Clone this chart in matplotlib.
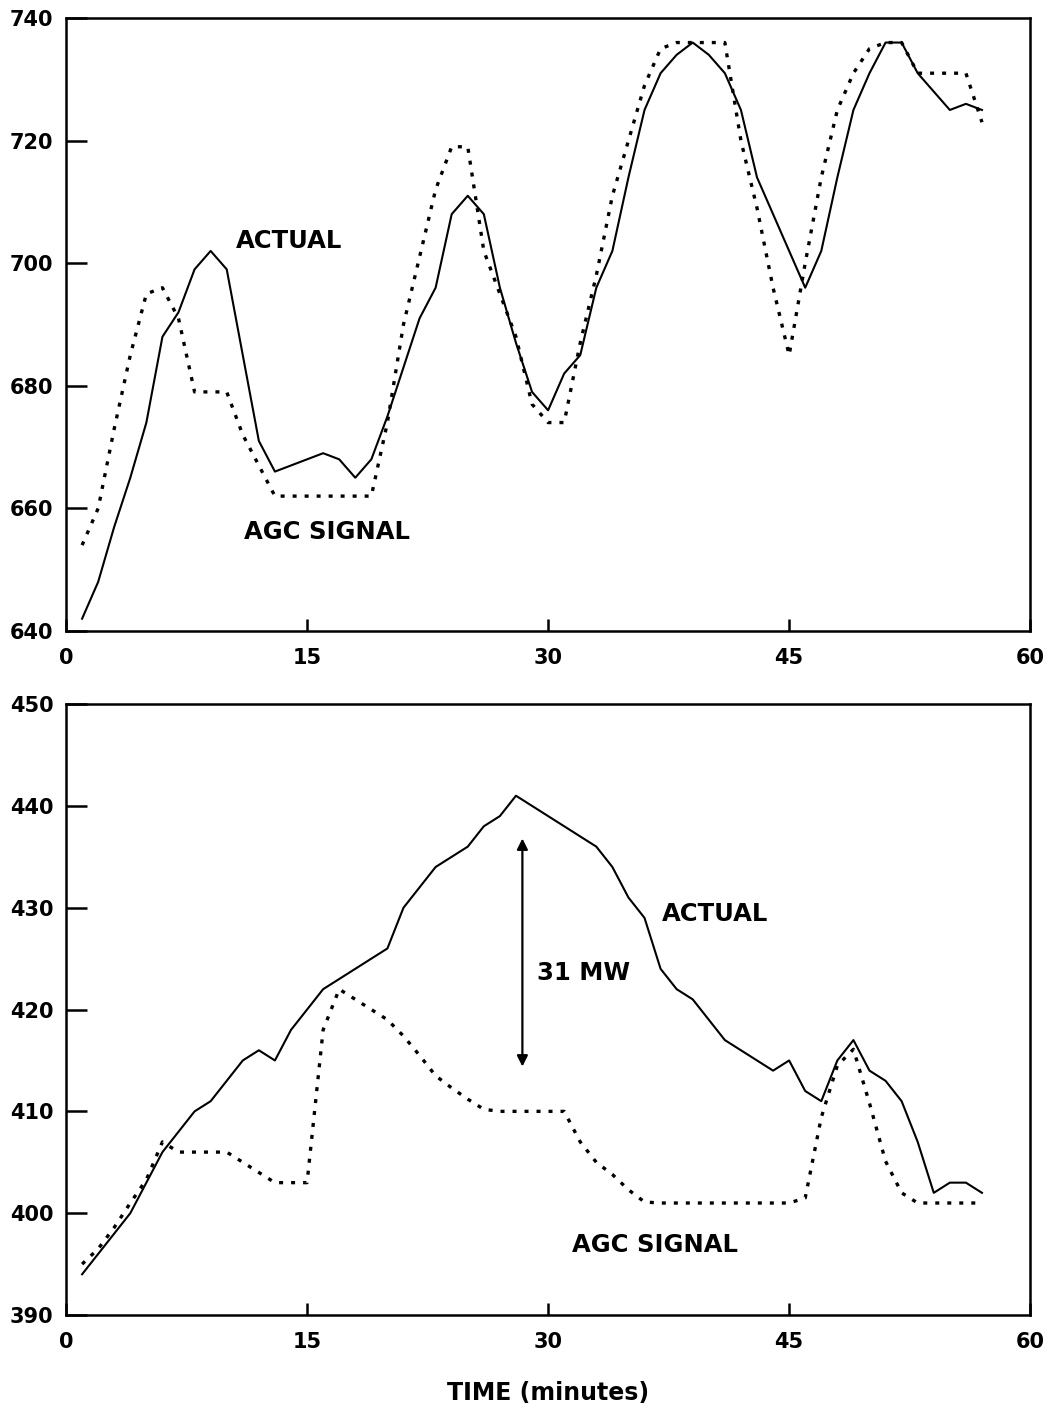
import numpy as np
import matplotlib
matplotlib.use("Agg")
import matplotlib.pyplot as plt

# minutter 1..57
minutter = np.arange(1, 58)

# øvre panel
faktisk_1 = [642, 648, 657, 665, 674, 688, 692, 699, 702, 699,
             685, 671, 666, 667, 668, 669, 668, 665, 668, 675,
             683, 691, 696, 708, 711, 708, 696, 687, 679, 676,
             682, 685, 696, 702, 714, 725, 731, 734, 736, 734,
             731, 725, 714, 708, 702, 696, 702, 714, 725, 731,
             736, 736, 731, 728, 725, 726, 725]
agc_1 = [654, 660, 673, 685, 695, 696, 691, 679, 679, 679,
         672, 667, 662, 662, 662, 662, 662, 662, 662, 674,
         690, 701, 712, 719, 719, 702, 695, 688, 677, 674,
         674, 687, 698, 711, 720, 729, 735, 736, 736, 736,
         736, 720, 709, 696, 685, 700, 714, 725, 731, 735,
         736, 736, 731, 731, 731, 731, 723]

# nedre panel
faktisk_2 = [394, 396, 398, 400, 403, 406, 408, 410, 411, 413,
             415, 416, 415, 418, 420, 422, 423, 424, 425, 426,
             430, 432, 434, 435, 436, 438, 439, 441, 440, 439,
             438, 437, 436, 434, 431, 429, 424, 422, 421, 419,
             417, 416, 415, 414, 415, 412, 411, 415, 417, 414,
             413, 411, 407, 402, 403, 403, 402]
agc_2 = [395, 396.5, 398.6, 401, 403.3, 407, 406, 406, 406, 406,
         405, 404, 403, 403, 403, 418, 422, 421, 420, 419,
         417.4, 415.5, 413.5, 412.3, 411.2, 410.2, 410, 410, 410, 410,
         410, 407, 405, 403.8, 402.3, 401.1, 401, 401, 401, 401,
         401, 401, 401, 401, 401, 401.5, 409.4, 414.5, 416.1, 410.8,
         405.1, 402, 401, 401, 401, 401, 401]

x_ticks = [0, 15, 30, 45, 60]
y_ticks_1 = [640, 660, 680, 700, 720, 740]
y_ticks_2 = [390, 400, 410, 420, 430, 440, 450]

plt.rcParams["font.family"] = ["DejaVu Sans"]
plt.rcParams["font.weight"] = "bold"

fig = plt.figure(figsize=(10.48, 14.09), dpi=100)
ax1 = fig.add_axes([0.063, 0.5522, 0.920, 0.435])
ax2 = fig.add_axes([0.063, 0.0667, 0.920, 0.4336])

prikk = (0, (1.2, 2.4))

for ax, fak, agc, yt in [(ax1, faktisk_1, agc_1, y_ticks_1),
                         (ax2, faktisk_2, agc_2, y_ticks_2)]:
    ax.plot(minutter, fak, color="black", lw=1.5)
    ax.plot(minutter, agc, color="black", lw=2.4, linestyle=prikk)
    ax.set_xlim(0, 60)
    ax.set_ylim(yt[0], yt[-1])
    ax.set_xticks(x_ticks)
    ax.set_yticks(yt)
    ax.tick_params(axis="both", direction="in", width=1.8, labelsize=15)
    ax.tick_params(axis="x", length=9, pad=12)
    ax.tick_params(axis="y", length=15, pad=9)
    for sp in ax.spines.values():
        sp.set_linewidth(1.8)
    for lab in ax.get_xticklabels() + ax.get_yticklabels():
        lab.set_fontweight("bold")

tekst = dict(fontsize=17.5, fontweight="bold", va="center", ha="left")
ax1.text(10.6, 703.6, "ACTUAL", **tekst)
ax1.text(11.1, 656.2, "AGC SIGNAL", **tekst)
ax2.text(37.1, 429.4, "ACTUAL", **tekst)
ax2.text(29.3, 423.6, "31 MW", **tekst)
ax2.text(31.5, 396.9, "AGC SIGNAL", **tekst)

# pil for forskjellen
ax2.annotate("", xy=(28.4, 436.8), xytext=(28.4, 414.4),
             arrowprops=dict(arrowstyle="<|-|>", color="black", lw=1.6,
                             mutation_scale=16, shrinkA=0, shrinkB=0))

fig.text(0.523, 1 - 1393 / 1409, "TIME (minutes)", fontsize=17,
         fontweight="bold", ha="center", va="center")

fig.savefig("out.png", dpi=100)
